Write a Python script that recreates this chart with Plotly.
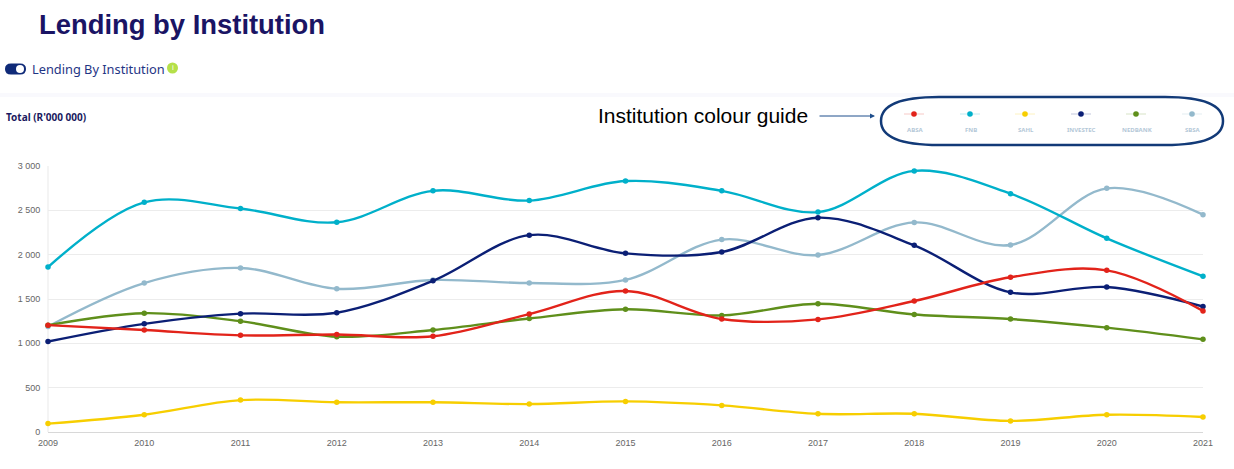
import plotly.graph_objects as go

years = list(range(2009, 2022))
institutions = ["ABSA", "FNB", "SAHL", "INVESTEC", "NEDBANK", "SBSA"]
absa = [1205, 1150, 1090, 1100, 1080, 1330, 1590, 1275, 1270, 1477, 1745, 1823, 1365]
fnb = [1860, 2590, 2520, 2365, 2720, 2610, 2830, 2720, 2480, 2945, 2688, 2184, 1756]
sahl = [95, 195, 360, 335, 335, 315, 345, 300, 205, 205, 125, 195, 170]
investec = [1020, 1220, 1335, 1345, 1705, 2220, 2015, 2030, 2417, 2105, 1575, 1635, 1415]
nedbank = [1205, 1340, 1250, 1075, 1150, 1280, 1385, 1315, 1447, 1325, 1274, 1177, 1045]
sbsa = [1190, 1680, 1850, 1615, 1715, 1680, 1715, 2170, 1996, 2364, 2109, 2748, 2451]
colors = ["#e2231a", "#00b0ca", "#f7ce00", "#0b1f75", "#5f8f1b", "#93b9cc"]
series = [absa, fnb, sahl, investec, nedbank, sbsa]
draw_order = [5, 4, 3, 2, 1, 0]
y_ticks = [0, 500, 1000, 1500, 2000, 2500, 3000]

W, H = 1234, 469
L, R, T, B = 48, 31, 166, 37
PW, PH = W - L - R, H - T - B


def px(x):
    return (x - L) / PW


def py(y):
    return (H - B - y) / PH


fig = go.Figure()
for i in draw_order:
    fig.add_trace(go.Scatter(
        x=years, y=series[i], name=institutions[i], mode="lines+markers",
        line=dict(color=colors[i], width=2.4, shape="spline", smoothing=1.0),
        marker=dict(color=colors[i], size=5.5), cliponaxis=False,
    ))

shapes = []
annotations = []


def text(x, y, s, size, color, family, anchor="left", bold=False):
    annotations.append(dict(
        x=px(x), y=py(y), xref="paper", yref="paper", text=f"<b>{s}</b>" if bold else s,
        showarrow=False, xanchor=anchor, yanchor="middle", align=anchor, borderpad=0,
        font=dict(size=size, color=color, family=family),
    ))


def rounded(x0, y0, x1, y1, r, **kw):
    p = (f"M {px(x0 + r)} {py(y0)} L {px(x1 - r)} {py(y0)} "
         f"Q {px(x1)} {py(y0)} {px(x1)} {py((y0 + y1) / 2)} "
         f"Q {px(x1)} {py(y1)} {px(x1 - r)} {py(y1)} "
         f"L {px(x0 + r)} {py(y1)} "
         f"Q {px(x0)} {py(y1)} {px(x0)} {py((y0 + y1) / 2)} "
         f"Q {px(x0)} {py(y0)} {px(x0 + r)} {py(y0)} Z")
    shapes.append(dict(type="path", path=p, xref="paper", yref="paper", **kw))


def circle(cx, cy, r, color):
    shapes.append(dict(type="circle", xref="paper", yref="paper",
                       x0=px(cx - r), x1=px(cx + r), y0=py(cy + r), y1=py(cy - r),
                       fillcolor=color, line=dict(width=0)))


# page furniture
text(38, 24.5, "Lending by Institution", 27.4, "#1a1464", "Liberation Sans", bold=True)
rounded(5, 63.5, 26, 74.5, 6, fillcolor="#0f2a78", line=dict(width=0))
circle(20, 69, 4, "#ffffff")
text(30.5, 69, "Lending By Institution", 12.8, "#1f3585", "Noto Sans")
circle(172.5, 68, 5.5, "#b5e04a")
text(172.5, 68, "i", 7, "#ffffff", "Noto Sans", anchor="center")
shapes.append(dict(type="rect", xref="paper", yref="paper", x0=px(0), x1=px(W),
                   y0=py(97), y1=py(93), fillcolor="#f9f9fd", line=dict(width=0), layer="below"))
text(5, 117, "Total (R'000 000)", 10, "#1a1a60", "Noto Sans", bold=True)

# colour guide callout
text(597, 116, "Institution colour guide", 21, "#000000", "Liberation Sans")
annotations.append(dict(x=px(875), y=py(116), ax=-57, ay=0,
                        xref="paper", yref="paper", text="",
                        showarrow=True, arrowhead=2, arrowsize=1, arrowwidth=1,
                        arrowcolor="#1f4e8c"))
rounded(881, 97, 1223, 145, 58, fillcolor="rgba(0,0,0,0)", line=dict(color="#123a78", width=2.5))
guide_x = [914, 970, 1025, 1081, 1136, 1192]
for gx, c, name in zip(guide_x, colors, institutions):
    shapes.append(dict(type="line", xref="paper", yref="paper", x0=px(gx - 10), x1=px(gx + 10),
                       y0=py(114), y1=py(114), line=dict(color=c, width=0.8), opacity=0.3))
    circle(gx, 114, 2.8, c)
    text(gx + 0.5, 129.7, name, 6, "#b4c8d8", "Noto Sans", anchor="center", bold=True)

shapes.append(dict(type="line", xref="paper", yref="paper", x0=0, x1=0, y0=0, y1=1,
                   line=dict(color="#e9e9e9", width=1), layer="below"))

fig.update_layout(
    width=W, height=H, autosize=False, showlegend=False,
    margin=dict(l=L, r=R, t=T, b=B, pad=0),
    paper_bgcolor="#ffffff", plot_bgcolor="#ffffff",
    separators=". ", hovermode="x",
    shapes=shapes, annotations=annotations,
    xaxis=dict(range=[2009, 2021], tickmode="array", tickvals=years,
               ticktext=[str(v) for v in years], showgrid=False,
               showline=True, linecolor="#d8d8d8", zeroline=False,
               ticks="outside", ticklen=2, tickcolor="rgba(0,0,0,0)",
               tickfont=dict(size=9, color="#666666", family="Liberation Sans")),
    yaxis=dict(range=[0, 3000], tickmode="array", tickvals=y_ticks, tickformat=",d",
               showgrid=True, gridcolor="#ececec", zeroline=False,
               ticks="outside", ticklen=5, tickcolor="rgba(0,0,0,0)",
               tickfont=dict(size=9, color="#666666", family="Liberation Sans")),
)

fig.write_html("out.html", config={"displayModeBar": False},
               post_script="document.body.style.margin='0';")
